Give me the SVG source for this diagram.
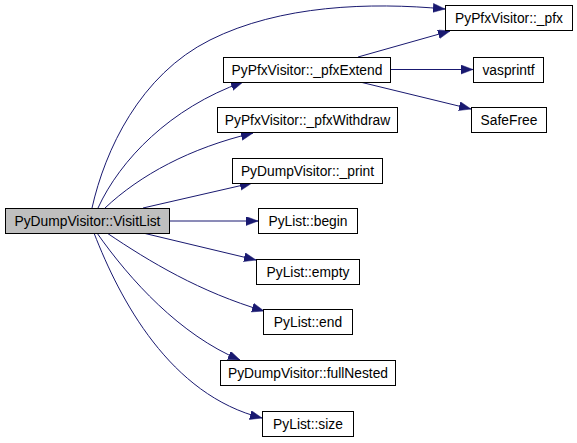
<svg xmlns="http://www.w3.org/2000/svg" width="577" height="443" viewBox="0 0 577 443">
<style>
.box{fill:#ffffff;stroke:#000000;stroke-width:1}
.cur{fill:#bfbfbf;stroke:#000000;stroke-width:1}
.lbl{font-family:"Liberation Sans",Arial,Helvetica,sans-serif;font-size:13.8px;fill:#000000;text-anchor:middle}
.edge{fill:none;stroke:#191970;stroke-width:1;marker-end:url(#arr)}
</style>
<defs>
<marker id="arr" markerUnits="userSpaceOnUse" markerWidth="13" markerHeight="10" refX="12" refY="4.5" orient="auto">
<path d="M0,0 L12,4.5 L0,9 z" fill="#191970" stroke="#191970" stroke-width="0.5"/>
</marker>
</defs>
<rect width="577" height="443" fill="#ffffff"/>
<g id="connectors">
<path class="edge" d="M92,208 C105,150 140,75 210,40 C280,5 370,2 445,9"/>
<path class="edge" d="M98,208 C120,160 170,108 243,82"/>
<path class="edge" d="M105,208 C140,175 190,148 253,133"/>
<path class="edge" d="M143,208 L252,183"/>
<path class="edge" d="M169,221 L258,221"/>
<path class="edge" d="M143,233 L256,260"/>
<path class="edge" d="M107,233 C150,262 200,292 264,311"/>
<path class="edge" d="M97,233 C130,280 180,335 240,360"/>
<path class="edge" d="M94,233 C120,300 170,395 262,418"/>
<path class="edge" d="M358,57 L450,31"/>
<path class="edge" d="M390,69.5 L473,69.5"/>
<path class="edge" d="M360,82 L471,109"/>
</g>
<g id="node-visitlist">
<rect class="cur" x="5.5" y="208.5" width="164" height="25"/>
<text class="lbl" x="87.5" y="225.5">PyDumpVisitor::VisitList</text>
</g>
<g id="node-pfx">
<rect class="box" x="445.5" y="5.5" width="127" height="25"/>
<text class="lbl" x="509" y="22.5">PyPfxVisitor::_pfx</text>
</g>
<g id="node-pfxextend">
<rect class="box" x="223.5" y="57.5" width="167" height="25"/>
<text class="lbl" x="307" y="74.5">PyPfxVisitor::_pfxExtend</text>
</g>
<g id="node-vasprintf">
<rect class="box" x="473.5" y="57.5" width="70" height="25"/>
<text class="lbl" x="508.5" y="74.5">vasprintf</text>
</g>
<g id="node-safefree">
<rect class="box" x="471.5" y="107.5" width="75" height="25"/>
<text class="lbl" x="509" y="124.5">SafeFree</text>
</g>
<g id="node-pfxwithdraw">
<rect class="box" x="217.5" y="107.5" width="180" height="25"/>
<text class="lbl" x="307.5" y="124.5">PyPfxVisitor::_pfxWithdraw</text>
</g>
<g id="node-print">
<rect class="box" x="232.5" y="158.5" width="150" height="25"/>
<text class="lbl" x="307.5" y="175.5">PyDumpVisitor::_print</text>
</g>
<g id="node-begin">
<rect class="box" x="258.5" y="208.5" width="99" height="25"/>
<text class="lbl" x="308" y="225.5">PyList::begin</text>
</g>
<g id="node-empty">
<rect class="box" x="256.5" y="259.5" width="103" height="25"/>
<text class="lbl" x="308" y="276.5">PyList::empty</text>
</g>
<g id="node-end">
<rect class="box" x="263.5" y="309.5" width="89" height="25"/>
<text class="lbl" x="308" y="326.5">PyList::end</text>
</g>
<g id="node-fullnested">
<rect class="box" x="220.5" y="360.5" width="175" height="25"/>
<text class="lbl" x="308" y="377.5">PyDumpVisitor::fullNested</text>
</g>
<g id="node-size">
<rect class="box" x="262.5" y="411.5" width="91" height="25"/>
<text class="lbl" x="308" y="428.5">PyList::size</text>
</g>
</svg>
